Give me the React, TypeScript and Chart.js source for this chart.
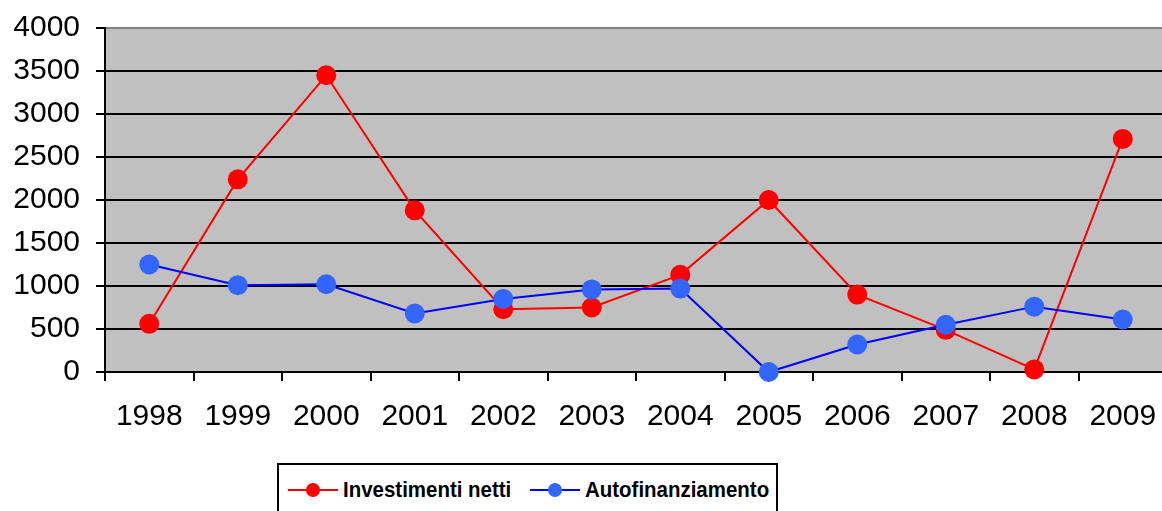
import React, { useEffect, useRef } from "react";
import { Chart, registerables } from "chart.js";

Chart.register(...registerables);

const years = ["1998", "1999", "2000", "2001", "2002", "2003", "2004", "2005", "2006", "2007", "2008", "2009"];
const investimentiNetti = [560, 2240, 3450, 1880, 730, 750, 1130, 2000, 900, 490, 30, 2710];
const autofinanziamento = [1250, 1010, 1020, 680, 850, 960, 970, 0, 320, 550, 760, 610];
const yMin = 0;
const yMax = 4000;
const yStep = 500;

const plotBg = {
  id: "plotBg",
  beforeDraw(chart: any) {
    const { ctx, chartArea } = chart;
    ctx.save();
    ctx.fillStyle = "#C0C0C0";
    ctx.fillRect(chartArea.left, chartArea.top, chartArea.right - chartArea.left, chartArea.bottom - chartArea.top);
    ctx.restore();
  },
};

const FONT = "'Liberation Sans', Arial, sans-serif";
const CANVAS_W = 1177;

export default function App() {
  const ref = useRef<HTMLCanvasElement>(null);

  useEffect(() => {
    if (!ref.current) return;
    const chart = new Chart(ref.current, {
      type: "line",
      data: {
        labels: years,
        datasets: [
          {
            label: "Investimenti netti",
            data: investimentiNetti,
            borderColor: "#FF0000",
            backgroundColor: "#FF0000",
            pointBackgroundColor: "#FF0000",
            pointBorderColor: "#FF0000",
            borderWidth: 2,
            pointRadius: 10,
            pointBorderWidth: 0,
            tension: 0,
            clip: false,
            order: 1,
          },
          {
            label: "Autofinanziamento",
            data: autofinanziamento,
            borderColor: "#0000FF",
            backgroundColor: "#3366FF",
            pointBackgroundColor: "#3366FF",
            pointBorderColor: "#3366FF",
            borderWidth: 2,
            pointRadius: 10,
            pointBorderWidth: 0,
            tension: 0,
            clip: false,
            order: 0,
          },
        ],
      },
      options: {
        responsive: false,
        animation: false,
        events: [],
        layout: { padding: { left: 0, top: 28, right: 3, bottom: 0 } },
        plugins: {
          legend: { display: false },
          tooltip: { enabled: false },
        },
        scales: {
          x: {
            type: "category",
            offset: true,
            grid: {
              offset: true,
              drawOnChartArea: false,
              drawTicks: true,
              tickLength: 9,
              tickColor: "#000000",
              lineWidth: 2,
              color: "#000000",
            },
            border: { display: true, color: "#000000", width: 2 },
            ticks: {
              color: "#000000",
              font: { family: FONT, size: 30 },
              padding: 18,
              maxRotation: 0,
              autoSkip: false,
            },
            afterFit: (scale: any) => {
              scale.height = 139;
            },
          },
          y: {
            min: yMin,
            max: yMax,
            grid: {
              color: (c: any) => (c.tick && c.tick.value === yMax ? "#808080" : "#000000"),
              lineWidth: 2,
              tickLength: 9,
              tickColor: "#000000",
            },
            border: { display: true, color: "#000000", width: 2 },
            ticks: {
              stepSize: yStep,
              color: "#000000",
              font: { family: FONT, size: 30, lineHeight: 0.6 },
              padding: 16,
              callback: (v: any) => String(v),
            },
            afterFit: (scale: any) => {
              scale.width = 105;
            },
          },
        },
      },
      plugins: [plotBg],
    });
    return () => chart.destroy();
  }, []);

  const legendText: React.CSSProperties = {
    position: "absolute",
    top: 0,
    height: 48,
    lineHeight: "50px",
    fontFamily: FONT,
    fontWeight: "bold",
    fontSize: 22,
    color: "#000",
    whiteSpace: "nowrap",
    transform: "scaleX(0.93)",
    transformOrigin: "left center",
  };

  const sample = (left: number, line: string, dot: string) => (
    <>
      <div style={{ position: "absolute", left, top: 24, width: 50, height: 2, background: line }} />
      <div
        style={{
          position: "absolute",
          left: left + 18,
          top: 18,
          width: 14,
          height: 14,
          borderRadius: "50%",
          background: dot,
        }}
      />
    </>
  );

  return (
    <div style={{ position: "fixed", left: 0, top: 0, width: CANVAS_W, height: 511, background: "#fff" }}>
      <canvas ref={ref} width={CANVAS_W} height={511} style={{ display: "block" }} />
      <div
        style={{
          position: "absolute",
          left: 277,
          top: 463,
          width: 497,
          height: 54,
          border: "2px solid #000",
          background: "#fff",
        }}
      >
        {sample(9, "#FF0000", "#FF0000")}
        <div style={{ ...legendText, left: 64 }}>Investimenti netti</div>
        {sample(251, "#0000FF", "#3366FF")}
        <div style={{ ...legendText, left: 306 }}>Autofinanziamento</div>
      </div>
    </div>
  );
}
